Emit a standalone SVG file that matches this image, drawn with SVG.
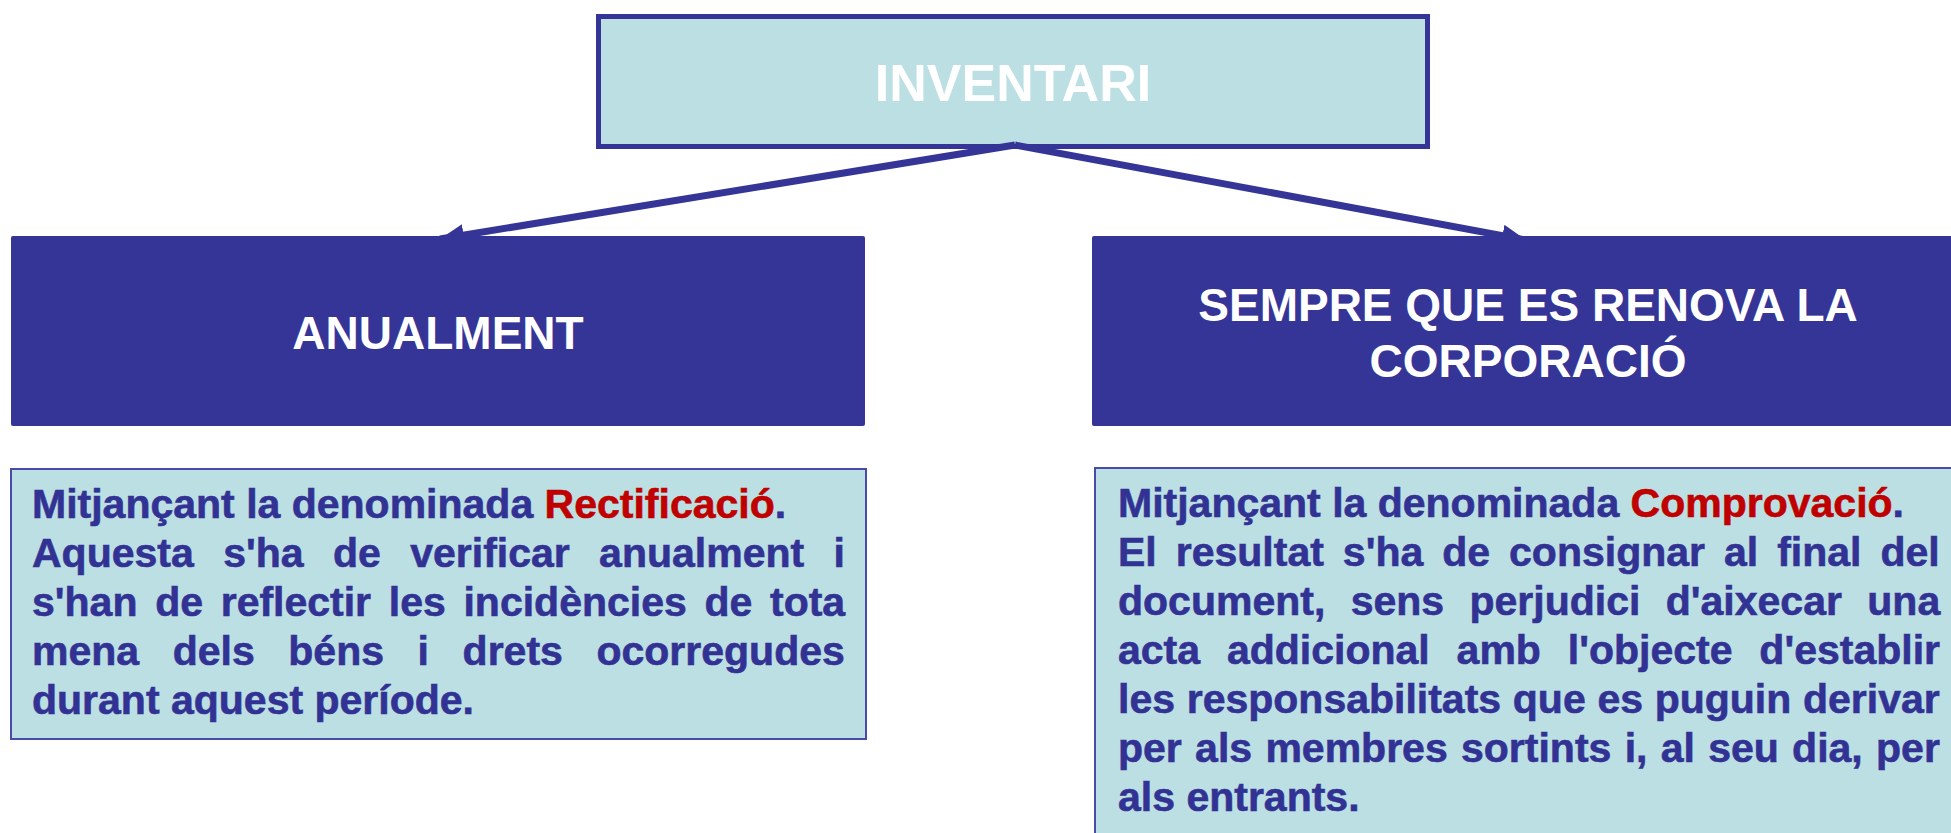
<svg xmlns="http://www.w3.org/2000/svg" width="1951" height="833" viewBox="0 0 1951 833">
<style>
.light{fill:#BBDFE2}
.dark{fill:#353598}
.hdr{font-family:"Liberation Sans",Arial,sans-serif;font-weight:bold;fill:#FFFFFF;text-anchor:middle}
.body{font-family:"Liberation Sans",Arial,sans-serif;font-weight:bold;font-size:41px;fill:#323294;stroke:#323294;stroke-width:0.6}
.red{fill:#C00000;stroke:#C00000}
.conn{stroke:#353598;stroke-width:7;fill:none}
</style>
<defs>
<marker id="arr" markerUnits="userSpaceOnUse" markerWidth="26" markerHeight="24" refX="24" refY="11" orient="auto">
<path d="M0,0 L24,11 L0,22 z" fill="#353598"/>
</marker>
</defs>
<rect width="1951" height="833" fill="#FFFFFF"/>
<g id="inventari">
<rect x="598.5" y="16.5" width="829" height="130" class="light" stroke="#353598" stroke-width="5"/>
<text class="hdr" x="1013" y="101" font-size="52">INVENTARI</text>
</g>
<g id="connectors">
<path class="conn" d="M1015,145 L440,239" marker-end="url(#arr)"/>
<path class="conn" d="M1015,145 L1526,240" marker-end="url(#arr)"/>
</g>
<g id="anualment">
<rect x="11" y="236" width="854" height="190" rx="2" class="dark"/>
<text class="hdr" x="438" y="349" font-size="46">ANUALMENT</text>
</g>
<g id="sempre">
<rect x="1092" y="236" width="880" height="190" rx="2" class="dark"/>
<text class="hdr" x="1528" y="321" font-size="46">SEMPRE QUE ES RENOVA LA</text>
<text class="hdr" x="1528" y="377" font-size="46">CORPORACIÓ</text>
</g>
<g id="rectificacio">
<rect x="11" y="469" width="855" height="270" class="light" stroke="#4A4AA8" stroke-width="2"/>
<text class="body" x="32" y="518">Mitjançant la denominada <tspan class="red">Rectificació</tspan>.</text>
<text class="body" x="32" y="567" word-spacing="18">Aquesta s'ha de verificar anualment i</text>
<text class="body" x="32" y="616" word-spacing="6.3">s'han de reflectir les incidències de tota</text>
<text class="body" x="32" y="665" word-spacing="22.2">mena dels béns i drets ocorregudes</text>
<text class="body" x="32" y="714">durant aquest període.</text>
</g>
<g id="comprovacio">
<rect x="1095" y="468" width="880" height="380" class="light" stroke="#4A4AA8" stroke-width="2"/>
<text class="body" x="1118" y="517">Mitjançant la denominada <tspan class="red">Comprovació</tspan>.</text>
<text class="body" x="1118" y="566" word-spacing="7.6">El resultat s'ha de consignar al final del</text>
<text class="body" x="1118" y="615" word-spacing="14">document, sens perjudici d'aixecar una</text>
<text class="body" x="1118" y="664" word-spacing="15.5">acta addicional amb l'objecte d'establir</text>
<text class="body" x="1118" y="713" word-spacing="0.3">les responsabilitats que es puguin derivar</text>
<text class="body" x="1118" y="762" word-spacing="1.9">per als membres sortints i, al seu dia, per</text>
<text class="body" x="1118" y="811">als entrants.</text>
</g>
</svg>
